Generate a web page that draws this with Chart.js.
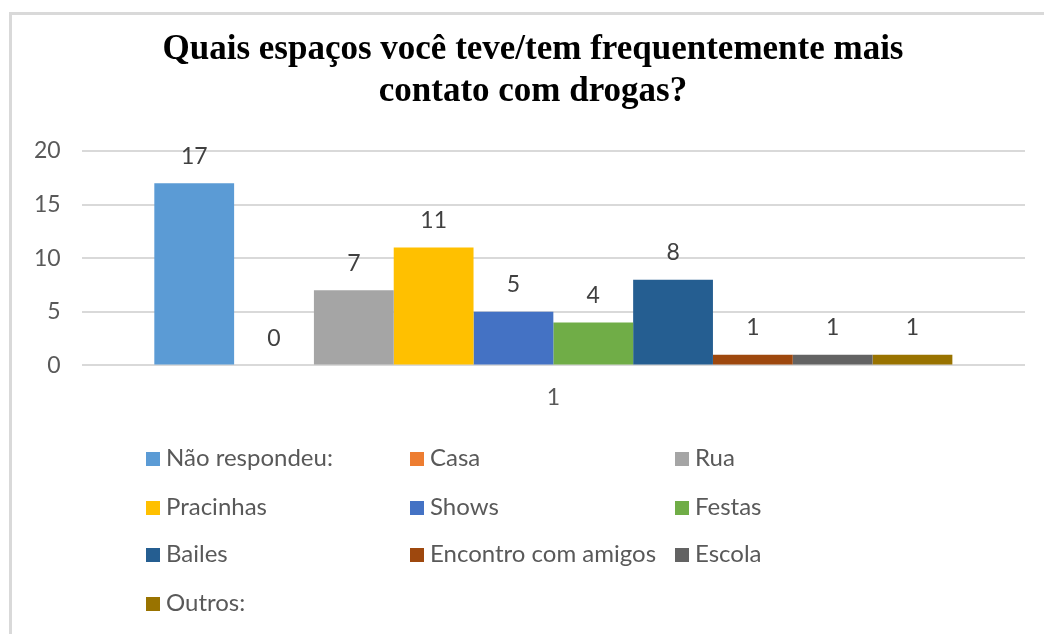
<!DOCTYPE html>
<html>
<head>
<meta charset="utf-8">
<script src="https://cdn.jsdelivr.net/npm/chart.js@4/dist/chart.umd.min.js"></script>
<style>
  body { margin: 0; background: #fff; }
  #wrap { position: relative; width: 1044px; height: 634px; overflow: hidden; }
  #frame { position: absolute; left: 9px; top: 12px; width: 1100px; height: 700px;
           border-left: 3px solid #d9d9d9; border-top: 3px solid #d9d9d9; }
  #myChart { position: absolute; left: 0; top: 0; }
  #title { position: absolute; left: 0; top: 27px; width: 1022px; padding-left: 22px;
           text-align: center; font-family: "Liberation Serif", serif; font-weight: bold;
           font-size: 35px; line-height: 42px; color: #000; }
  #legend { position: absolute; left: 0; top: 0; font-family: Lato, sans-serif;
            font-size: 24px; color: #595959; }
  .item { position: absolute; white-space: nowrap; line-height: 28px; }
  .box { display: inline-block; width: 14px; height: 14px; margin-right: 6px;
         vertical-align: 0px; }
</style>
</head>
<body>
<div id="wrap">
  <div id="frame"></div>
  <canvas id="myChart" width="1044" height="634"></canvas>
  <div id="title"></div>
  <div id="legend"></div>
</div>
<script>
// daten
var categories = ["1"];
var seriesNames = ["Não respondeu:", "Casa", "Rua", "Pracinhas", "Shows", "Festas",
                   "Bailes", "Encontro com amigos", "Escola", "Outros:"];
var seriesValues = [17, 0, 7, 11, 5, 4, 8, 1, 1, 1];
var seriesColors = ["#5b9bd5", "#ed7d31", "#a5a5a5", "#ffc000", "#4472c4", "#70ad47",
                    "#255e91", "#9e480e", "#636363", "#997300"];
var yTicks = [0, 5, 10, 15, 20];
var titleLines = ["Quais espaços você teve/tem frequentemente mais", "contato com drogas?"];

var datasets = [];
for (var i = 0; i < seriesNames.length; i++) {
  datasets.push({
    label: seriesNames[i],
    data: [seriesValues[i]],
    backgroundColor: seriesColors[i],
    borderWidth: 0
  });
}

// zahlen ueber den balken
var valueLabels = {
  id: "valueLabels",
  afterDatasetsDraw: function(chart) {
    var ctx = chart.ctx;
    ctx.save();
    ctx.font = "23px Lato";
    ctx.fillStyle = "#404040";
    ctx.textAlign = "center";
    ctx.textBaseline = "middle";
    chart.data.datasets.forEach(function(ds, i) {
      var bar = chart.getDatasetMeta(i).data[0];
      ctx.fillText(ds.data[0], bar.x, bar.y - 27);
    });
    ctx.restore();
  }
};

var chart = new Chart("myChart", {
  type: "bar",
  data: { labels: categories, datasets: datasets },
  plugins: [valueLabels],
  options: {
    responsive: false,
    animation: false,
    layout: { padding: { left: 13, right: 19, top: 151, bottom: 213 } },
    datasets: { bar: { categoryPercentage: 0.846, barPercentage: 1 } },
    plugins: {
      legend: { display: false },
      tooltip: { enabled: false },
      title: { display: false }
    },
    scales: {
      x: {
        grid: { display: false },
        border: { display: false },
        ticks: { color: "#595959", font: { family: "Lato", size: 23 }, padding: 10 }
      },
      y: {
        min: 0,
        max: 20,
        afterBuildTicks: function(axis) {
          axis.ticks = yTicks.map(function(v) { return { value: v }; });
        },
        grid: { color: "#d9d9d9", lineWidth: 2, drawTicks: false },
        border: { display: false },
        ticks: { color: "#595959", font: { family: "Lato", size: 23 }, padding: 21 }
      }
    }
  }
});

// titel
document.getElementById("title").innerHTML = titleLines.join("<br>");

// legende in drei spalten
var colX = [146, 410, 675];
var rowY = [443, 492, 539, 588];
var legend = document.getElementById("legend");
for (var j = 0; j < seriesNames.length; j++) {
  var el = document.createElement("div");
  el.className = "item";
  el.style.left = colX[j % 3] + "px";
  el.style.top = rowY[Math.floor(j / 3)] + "px";
  el.innerHTML = '<span class="box" style="background:' + seriesColors[j] + '"></span>' + seriesNames[j];
  legend.appendChild(el);
}
</script>
</body>
</html>
